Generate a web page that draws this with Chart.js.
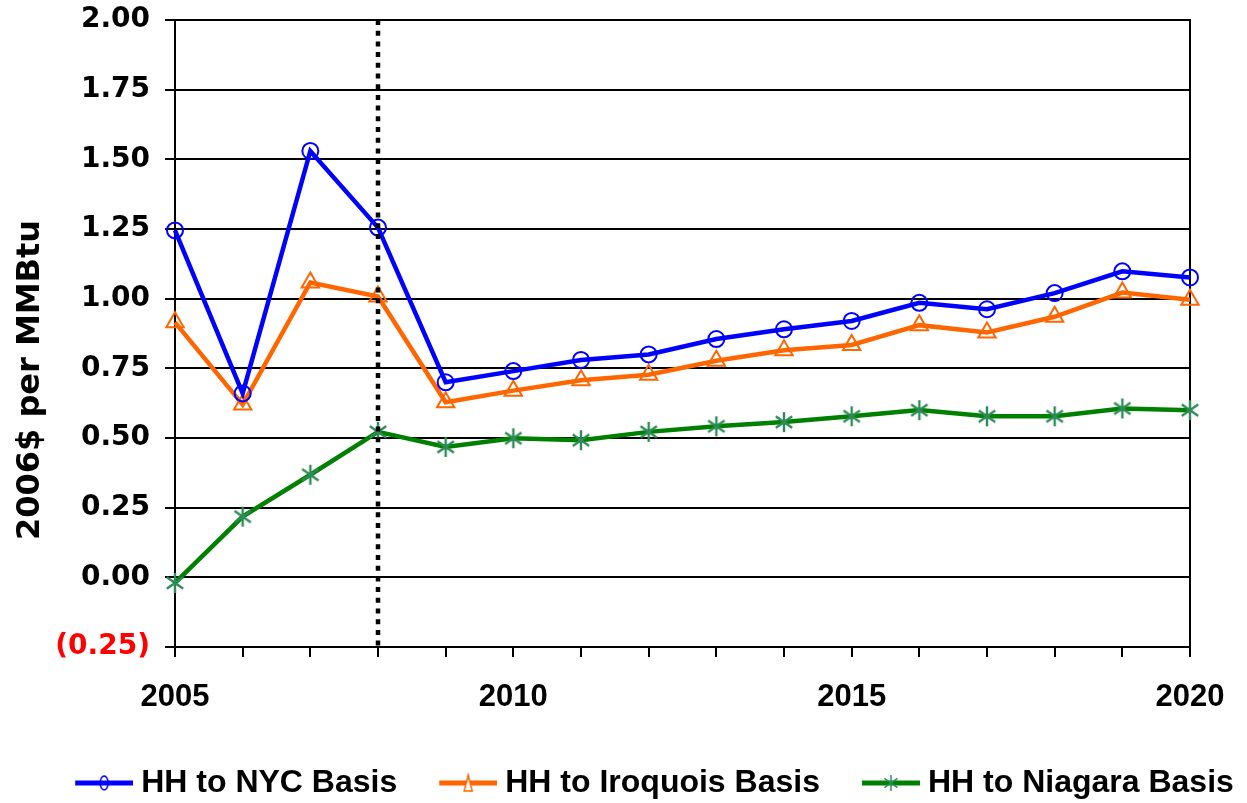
<!DOCTYPE html>
<html>
<head>
<meta charset="utf-8">
<script src="https://cdn.jsdelivr.net/npm/chart.js@4/dist/chart.umd.min.js"></script>
<style>
  html, body { margin: 0; padding: 0; background: #fff; }
  #wrap { width: 1247px; height: 803px; }
</style>
</head>
<body>
<div id="wrap"><canvas id="chart"></canvas></div>
<script>
// Data
const years = [2005, 2006, 2007, 2008, 2009, 2010, 2011, 2012, 2013, 2014, 2015, 2016, 2017, 2018, 2019, 2020];
const nycBasis = [1.245, 0.66, 1.53, 1.255, 0.70, 0.74, 0.78, 0.80, 0.855, 0.89, 0.92, 0.985, 0.962, 1.02, 1.098, 1.076];
const iroquoisBasis = [0.915, 0.62, 1.058, 1.008, 0.628, 0.67, 0.707, 0.727, 0.777, 0.815, 0.834, 0.905, 0.879, 0.935, 1.022, 0.996];
const niagaraBasis = [-0.02, 0.218, 0.368, 0.522, 0.468, 0.499, 0.492, 0.522, 0.542, 0.557, 0.578, 0.60, 0.578, 0.578, 0.606, 0.60];
const seriesNames = ['HH to NYC Basis', 'HH to Iroquois Basis', 'HH to Niagara Basis'];
const yTitle = '2006$ per MMBtu';
const dividerYear = 2008;

const blue = '#0000ff';
const orange = '#ff6600';
const green = '#008000';
const starGreen = '#2e8b57';

// asterisk marker (vertical stroke + two diagonals)
function makeStar(size, color, lw) {
  const c = document.createElement('canvas');
  c.width = size; c.height = size;
  const g = c.getContext('2d');
  const m = size / 2, r = size / 2 - 1;
  g.strokeStyle = color;
  g.lineWidth = lw;
  g.beginPath();
  [90, 35, 145].forEach(deg => {
    const a = deg * Math.PI / 180;
    g.moveTo(m + r * Math.cos(a), m + r * Math.sin(a));
    g.lineTo(m - r * Math.cos(a), m - r * Math.sin(a));
  });
  g.stroke();
  return c;
}

// legend sample: line with the marker in the middle, left margin gives item spacing
function makeLegendIcon(color, marker, markerColor) {
  const margin = 40, lineW = 58, h = 26;
  const c = document.createElement('canvas');
  c.width = margin + lineW; c.height = h;
  const g = c.getContext('2d');
  const cx = margin + lineW / 2, cy = h / 2;
  g.strokeStyle = color;
  g.lineWidth = 5;
  g.beginPath();
  g.moveTo(margin, cy);
  g.lineTo(margin + lineW, cy);
  g.stroke();
  g.strokeStyle = markerColor;
  g.lineWidth = 1.5;
  g.fillStyle = '#fff';
  if (marker === 'circle') {
    g.beginPath();
    g.ellipse(cx, cy, 4, 7, 0, 0, Math.PI * 2);
    g.stroke();
  } else if (marker === 'triangle') {
    g.beginPath();
    g.moveTo(cx, cy - 8);
    g.lineTo(cx + 4, cy + 8);
    g.lineTo(cx - 4, cy + 8);
    g.closePath();
    g.fill();
    g.stroke();
  } else {
    g.drawImage(makeStar(18, markerColor, 1.5), cx - 9, cy - 9);
  }
  return c;
}

const legendIcons = [
  makeLegendIcon(blue, 'circle', blue),
  makeLegendIcon(orange, 'triangle', orange),
  makeLegendIcon(green, 'star', starGreen)
];

const toPoints = vals => vals.map((v, i) => ({ x: years[i], y: v }));

const dividerPlugin = {
  id: 'divider',
  afterDatasetsDraw(chart) {
    const { ctx, chartArea, scales } = chart;
    const x = scales.x.getPixelForValue(dividerYear);
    ctx.save();
    ctx.strokeStyle = '#000';
    ctx.lineWidth = 4.5;
    ctx.setLineDash([5, 5.7]);
    ctx.beginPath();
    ctx.moveTo(x, chartArea.top);
    ctx.lineTo(x, chartArea.bottom);
    ctx.stroke();
    ctx.restore();
  }
};

// y title sits a bit below the middle in the original
const yTitlePlugin = {
  id: 'yTitle',
  afterDraw(chart) {
    const { ctx } = chart;
    ctx.save();
    ctx.translate(31, 380);
    ctx.rotate(-Math.PI / 2);
    ctx.font = 'bold 32px "DejaVu Sans"';
    ctx.fillStyle = '#000';
    ctx.textAlign = 'center';
    ctx.textBaseline = 'middle';
    ctx.fillText(yTitle, 0, 0);
    ctx.restore();
  }
};

const legendShift = {
  id: 'legendShift',
  afterLayout(chart) {
    const lg = chart.legend;
    lg.left += 15;
    lg.right += 15;
    lg.top += 6;
    lg.bottom += 6;
  }
};

new Chart(document.getElementById('chart'), {
  type: 'line',
  data: {
    datasets: [
      {
        label: seriesNames[0],
        data: toPoints(nycBasis),
        borderColor: blue,
        borderWidth: 4.5,
        pointStyle: 'circle',
        pointRadius: 8,
        pointBorderWidth: 2,
        pointBorderColor: blue,
        pointBackgroundColor: 'rgba(0,0,0,0)',
        tension: 0,
        clip: false
      },
      {
        label: seriesNames[1],
        data: toPoints(iroquoisBasis),
        borderColor: orange,
        borderWidth: 4.5,
        pointStyle: 'triangle',
        pointRadius: 10,
        pointBorderWidth: 2,
        pointBorderColor: orange,
        pointBackgroundColor: 'rgba(0,0,0,0)',
        tension: 0,
        clip: false
      },
      {
        label: seriesNames[2],
        data: toPoints(niagaraBasis),
        borderColor: green,
        borderWidth: 4.5,
        pointStyle: makeStar(22, starGreen, 2.4),
        pointRadius: 10,
        tension: 0,
        clip: false
      }
    ]
  },
  options: {
    responsive: true,
    maintainAspectRatio: false,
    animation: false,
    layout: { padding: { top: 20, left: 0, right: 0, bottom: 0 } },
    plugins: {
      tooltip: { enabled: false },
      legend: {
        position: 'bottom',
        labels: {
          usePointStyle: true,
          pointStyleWidth: 82,
          padding: 10,
          color: '#000',
          font: { family: 'Liberation Sans', weight: 'bold', size: 32 },
          generateLabels: chart => chart.data.datasets.map((ds, i) => ({
            text: ds.label,
            pointStyle: legendIcons[i],
            fillStyle: 'rgba(0,0,0,0)',
            strokeStyle: 'rgba(0,0,0,0)',
            lineWidth: 0,
            hidden: false,
            datasetIndex: i,
            fontColor: '#000'
          }))
        }
      }
    },
    scales: {
      x: {
        type: 'linear',
        min: 2005,
        max: 2020,
        afterFit: s => { s.height = 104; s.paddingLeft = 0; s.paddingRight = 0; },
        grid: {
          display: true,
          drawOnChartArea: false,
          drawTicks: true,
          tickLength: 10,
          color: '#000',
          lineWidth: 2
        },
        border: { display: true, color: '#000', width: 2 },
        ticks: {
          stepSize: 1,
          autoSkip: false,
          maxRotation: 0,
          padding: 22,
          color: '#000',
          font: { family: 'Liberation Sans', weight: 'bold', size: 31 },
          callback: v => (v % 5 === 0 ? String(v) : '')
        }
      },
      y: {
        min: -0.25,
        max: 2.0,
        afterFit: s => { s.width = 175; s.paddingTop = 0; s.paddingBottom = 0; },
        grid: {
          color: c => (c.tick && c.tick.value < 0 ? 'rgba(0,0,0,0)' : '#000'),
          tickColor: '#000',
          lineWidth: 2,
          tickLength: 10
        },
        border: { display: true, color: '#000', width: 2 },
        ticks: {
          stepSize: 0.25,
          padding: 15,
          color: c => (c.tick.value < 0 ? '#ff0000' : '#000'),
          font: { family: 'DejaVu Sans', weight: 'bold', size: 28 },
          callback: v => (v < 0 ? '(' + Math.abs(v).toFixed(2) + ')' : v.toFixed(2))
        }
      },
      yRight: {
        position: 'right',
        min: -0.25,
        max: 2.0,
        afterFit: s => { s.width = 57; s.paddingTop = 0; s.paddingBottom = 0; },
        grid: { display: false },
        border: { display: true, color: '#000', width: 2 },
        ticks: { display: false }
      }
    }
  },
  plugins: [dividerPlugin, yTitlePlugin, legendShift]
});
</script>
</body>
</html>
